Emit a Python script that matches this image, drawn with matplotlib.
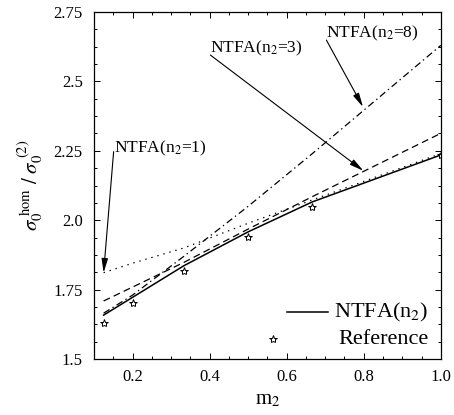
import matplotlib
matplotlib.use("Agg")
import matplotlib.pyplot as plt
from matplotlib.ticker import MultipleLocator

plt.rcParams['font.family'] = 'serif'
plt.rcParams['font.serif'] = ['Liberation Serif', 'DejaVu Serif']
plt.rcParams['mathtext.fontset'] = 'stix'
plt.rcParams['lines.scale_dashes'] = False

# volume fraction of phase 2
m2 = [1/8, 1/5, 1/3, 1/2, 2/3, 1.0]

# normalised yield stress
ntfa_n2 = [1.658, 1.722, 1.836, 1.958, 2.066, 2.235]
ntfa_1 = [1.811, 1.845, 1.900, 1.989, 2.073, 2.240]
ntfa_3 = [1.709, 1.759, 1.848, 1.968, 2.085, 2.313]
ntfa_8 = [1.665, 1.730, 1.870, 2.050, 2.240, 2.630]
reference = [1.629, 1.703, 1.817, 1.938, 2.049, 2.235]

yticks = [1.5, 1.75, 2.0, 2.25, 2.5, 2.75]
ytick_labels = ['1.5', '1.75', '2.0', '2.25', '2.5', '2.75']
xticks = [0.2, 0.4, 0.6, 0.8, 1.0]
xtick_labels = ['0.2', '0.4', '0.6', '0.8', '1.0']

fig = plt.figure(figsize=(4.54, 4.15), dpi=100)
ax = fig.add_axes([0.207, 0.135, 0.764, 0.836])

ax.plot(m2, ntfa_n2, color='k', lw=1.1, ls='-')
ax.plot(m2, ntfa_1, color='k', lw=0.9, ls=(0, (1, 3.5)))
ax.plot(m2, ntfa_3, color='k', lw=0.9, ls=(0, (5, 3)))
ax.plot(m2, ntfa_8, color='k', lw=0.9, ls=(0, (5, 2.5, 1, 2.5)))
ax.plot(m2, reference, ls='none', marker='*', ms=6, mfc='white',
        mec='k', mew=0.7)

ax.set_xlim(0.1, 1.0)
ax.set_ylim(1.5, 2.75)
ax.set_xticks(xticks)
ax.set_xticklabels(xtick_labels)
ax.set_yticks(yticks)
ax.set_yticklabels(ytick_labels)
ax.xaxis.set_minor_locator(MultipleLocator(0.05))
ax.yaxis.set_minor_locator(MultipleLocator(0.0625))
ax.tick_params(which='both', direction='in', top=True, right=True,
               labelsize=12)
ax.tick_params(which='major', length=4, width=0.7)
ax.tick_params(which='minor', length=2.5, width=0.7)
ax.tick_params(axis='x', pad=7)
ax.tick_params(axis='y', pad=8)
for s in ax.spines.values():
    s.set_linewidth(0.9)

ax.set_xlabel(r'm$_2$', fontsize=15, labelpad=4)
ax.set_ylabel(r'$\sigma_0^{\ \mathrm{hom}}\ /\ \sigma_0^{\ (2)}$',
              fontsize=15, labelpad=6)

# labels with arrows pointing at the curves
arrow = dict(arrowstyle='-|>,head_length=0.7,head_width=0.16', color='k',
             lw=0.8, shrinkA=0, shrinkB=0, mutation_scale=12)
ax.text(0.153, 2.246, r'NTFA(n$_2$=1)', fontsize=12.5, va='baseline')
ax.annotate('', xy=(0.125, 1.811), xytext=(0.151, 2.247), arrowprops=arrow)
ax.text(0.402, 2.606, r'NTFA(n$_2$=3)', fontsize=12.5, va='baseline')
ax.annotate('', xy=(0.799, 2.178), xytext=(0.402, 2.595), arrowprops=arrow)
ax.text(0.703, 2.66, r'NTFA(n$_2$=8)', fontsize=12.5, va='baseline')
ax.annotate('', xy=(0.798, 2.408), xytext=(0.703, 2.649), arrowprops=arrow)

# key in the lower right corner
tr = ax.transAxes
ax.plot([0.556, 0.674], [0.135, 0.135], color='k', lw=1.1, transform=tr)
ax.plot([0.515], [0.057], ls='none', marker='*', ms=6, mfc='white',
        mec='k', mew=0.7, transform=tr)
ax.text(0.965, 0.135, r'NTFA(n$_2$)', fontsize=16, ha='right',
        va='center', transform=tr)
ax.text(0.965, 0.057, 'Reference', fontsize=16, ha='right',
        va='center', transform=tr)

fig.savefig('out.png', dpi=100)
